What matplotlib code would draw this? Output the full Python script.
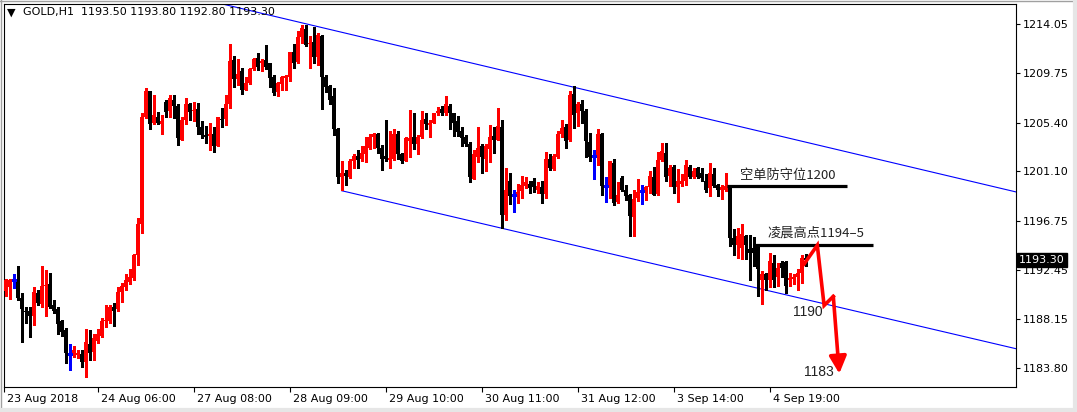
import matplotlib
matplotlib.use('Agg')

import matplotlib.pyplot as plt
import matplotlib.transforms as mtransforms
from matplotlib.lines import Line2D
import numpy as np

# GOLD H1 candles, 23 Aug 2018 -> 4 Sep 2018
opens = [
    1190.6, 1190.9, 1191.5, 1191.5, 1190.0, 1188.8, 1188.8, 1188.4, 1190.4, 1189.4,
    1191.0, 1191.2, 1189.3, 1189.0, 1187.9, 1187.1, 1185.0, 1185.0, 1184.9, 1185.0,
    1184.3, 1185.9, 1185.2, 1186.2, 1186.6, 1187.9, 1187.9, 1189.2, 1189.0, 1190.5,
    1190.9, 1191.4, 1191.7, 1193.7, 1196.5, 1205.9, 1208.2, 1205.4, 1205.9, 1205.3,
    1207.2, 1206.4, 1207.4, 1206.9, 1203.9, 1205.6, 1207.0, 1206.4, 1206.6, 1205.0,
    1204.3, 1204.2, 1204.4, 1203.3, 1205.7, 1205.7, 1207.0, 1210.9, 1209.2, 1209.9,
    1208.3, 1208.9, 1210.1, 1211.1, 1210.6, 1210.9, 1210.6, 1209.4, 1208.1, 1208.8,
    1209.3, 1209.4, 1211.6, 1210.7, 1212.9, 1213.6, 1212.3, 1212.5, 1211.2, 1213.0,
    1209.4, 1208.6, 1207.7, 1204.8, 1200.6, 1201.0, 1200.6, 1202.0, 1202.5, 1202.2,
    1202.6, 1203.2, 1204.1, 1204.4, 1203.2, 1202.5, 1202.1, 1202.2, 1204.4, 1202.6,
    1202.0, 1203.8, 1204.1, 1203.5, 1204.1, 1205.7, 1205.2, 1205.4, 1206.2, 1206.6,
    1206.2, 1206.9, 1206.2, 1205.5, 1204.7, 1204.1, 1203.5, 1200.4, 1202.4, 1203.3,
    1202.2, 1203.1, 1204.2, 1203.9, 1205.0, 1197.3, 1200.3, 1199.0, 1199.0, 1199.4,
    1199.8, 1200.0, 1200.3, 1199.5, 1199.7, 1199.1, 1202.2, 1201.3, 1202.4, 1204.4,
    1205.0, 1203.9, 1207.9, 1206.2, 1207.0, 1206.4, 1203.7, 1202.5, 1202.4, 1204.4,
    1199.8, 1199.7, 1201.8, 1198.4, 1200.5, 1199.5, 1199.0, 1197.1, 1198.8, 1199.4,
    1199.5, 1199.7, 1200.6, 1199.1, 1202.1, 1202.7, 1200.7, 1201.5, 1199.7, 1200.0,
    1200.3, 1201.5, 1200.6, 1201.4, 1201.0, 1200.3, 1199.6, 1200.9, 1199.9, 1199.5,
    1199.5, 1199.7, 1195.2, 1194.6, 1194.4, 1195.4, 1194.3, 1194.4, 1194.5, 1191.5,
    1192.1, 1191.5, 1193.0, 1191.8, 1193.0, 1193.1, 1191.5, 1191.6, 1191.8, 1192.2,
    1193.5,
]
highs = [
    1191.6, 1191.6, 1192.1, 1192.8, 1190.4, 1189.2, 1189.2, 1190.9, 1190.7, 1192.8,
    1192.4, 1192.2, 1189.8, 1189.2, 1188.0, 1187.3, 1185.9, 1185.7, 1185.4, 1185.4,
    1187.2, 1187.1, 1186.8, 1187.2, 1188.2, 1189.3, 1189.3, 1189.5, 1190.9, 1191.3,
    1192.1, 1192.5, 1193.8, 1197.0, 1206.2, 1208.4, 1208.2, 1207.8, 1206.3, 1206.1,
    1207.4, 1207.8, 1207.8, 1207.0, 1205.9, 1207.6, 1207.1, 1207.2, 1207.1, 1205.5,
    1205.1, 1205.4, 1205.0, 1205.9, 1206.7, 1207.8, 1212.3, 1211.3, 1211.0, 1210.2,
    1209.4, 1210.2, 1211.1, 1211.5, 1211.0, 1212.2, 1210.6, 1209.6, 1209.0, 1209.5,
    1209.6, 1211.6, 1212.3, 1213.5, 1214.0, 1214.0, 1213.0, 1213.8, 1213.3, 1213.1,
    1209.6, 1208.7, 1208.4, 1204.9, 1202.0, 1201.2, 1202.2, 1202.6, 1203.0, 1203.3,
    1204.1, 1204.4, 1204.5, 1204.5, 1203.4, 1205.6, 1204.7, 1204.8, 1204.7, 1202.7,
    1204.1, 1206.5, 1206.2, 1204.3, 1206.4, 1206.2, 1205.6, 1206.2, 1206.8, 1206.9,
    1207.7, 1207.0, 1206.2, 1206.0, 1205.0, 1204.3, 1203.7, 1203.0, 1205.0, 1203.5,
    1203.5, 1205.2, 1205.0, 1206.7, 1205.6, 1201.4, 1201.0, 1199.5, 1200.0, 1200.7,
    1200.6, 1200.3, 1200.5, 1200.2, 1200.3, 1202.8, 1202.6, 1202.6, 1204.7, 1205.6,
    1205.3, 1208.2, 1208.6, 1207.2, 1207.4, 1206.6, 1204.5, 1203.0, 1204.8, 1204.5,
    1200.6, 1202.0, 1202.2, 1200.2, 1200.7, 1199.9, 1199.1, 1199.5, 1200.4, 1199.9,
    1199.8, 1201.1, 1201.5, 1202.8, 1203.6, 1203.6, 1201.7, 1201.7, 1201.3, 1200.9,
    1202.1, 1201.7, 1201.4, 1201.5, 1201.4, 1200.9, 1201.8, 1201.4, 1200.0, 1199.9,
    1201.0, 1199.8, 1196.0, 1196.1, 1196.5, 1195.5, 1195.5, 1195.3, 1194.6, 1192.3,
    1192.2, 1193.9, 1193.7, 1193.0, 1193.2, 1193.2, 1192.2, 1192.1, 1192.5, 1193.7,
    1193.8,
]
lows = [
    1190.1, 1189.9, 1190.8, 1189.8, 1186.1, 1187.8, 1186.5, 1187.6, 1189.3, 1189.2,
    1188.4, 1189.1, 1188.6, 1186.8, 1186.6, 1184.2, 1183.6, 1184.8, 1184.7, 1183.9,
    1183.0, 1184.5, 1184.5, 1186.0, 1186.5, 1187.4, 1187.8, 1187.5, 1188.8, 1189.6,
    1190.7, 1191.2, 1191.5, 1192.9, 1195.7, 1205.8, 1204.8, 1205.3, 1205.3, 1204.4,
    1205.9, 1205.9, 1205.8, 1203.4, 1203.9, 1205.3, 1205.6, 1205.5, 1204.4, 1204.0,
    1203.6, 1203.0, 1202.8, 1203.3, 1205.0, 1205.2, 1206.7, 1208.5, 1208.7, 1207.9,
    1208.3, 1208.8, 1210.0, 1210.0, 1209.9, 1210.1, 1208.5, 1207.8, 1207.7, 1208.3,
    1208.3, 1209.1, 1210.2, 1210.6, 1212.4, 1212.1, 1210.2, 1210.6, 1210.5, 1206.6,
    1208.1, 1207.0, 1204.3, 1200.1, 1199.5, 1199.9, 1200.5, 1201.4, 1201.4, 1202.0,
    1201.9, 1203.1, 1203.2, 1202.7, 1201.2, 1202.0, 1201.4, 1202.1, 1202.2, 1201.8,
    1202.0, 1202.4, 1203.1, 1202.6, 1204.0, 1204.8, 1204.1, 1205.4, 1206.1, 1206.1,
    1206.1, 1204.8, 1204.2, 1204.2, 1203.3, 1203.3, 1200.2, 1200.4, 1201.9, 1201.0,
    1201.1, 1201.9, 1202.7, 1203.9, 1196.1, 1196.8, 1198.2, 1197.5, 1198.3, 1198.8,
    1199.6, 1199.2, 1199.3, 1199.2, 1198.3, 1198.8, 1201.2, 1201.2, 1202.3, 1204.1,
    1203.2, 1203.8, 1204.9, 1205.1, 1205.4, 1202.4, 1202.0, 1200.4, 1201.7, 1199.0,
    1198.4, 1198.8, 1198.1, 1198.3, 1199.4, 1198.6, 1195.4, 1195.4, 1198.5, 1198.2,
    1198.6, 1199.2, 1199.0, 1199.0, 1202.0, 1200.3, 1199.8, 1199.2, 1198.4, 1199.8,
    1199.9, 1200.5, 1200.5, 1200.5, 1200.3, 1199.3, 1198.9, 1199.7, 1198.9, 1198.7,
    1199.4, 1194.5, 1193.7, 1193.5, 1193.4, 1193.4, 1191.5, 1192.8, 1190.1, 1189.4,
    1190.7, 1190.9, 1190.9, 1191.0, 1191.8, 1190.4, 1191.0, 1191.2, 1190.7, 1191.3,
    1192.8,
]
closes = [
    1191.5, 1191.5, 1191.5, 1190.0, 1189.0, 1188.7, 1188.4, 1190.5, 1189.5, 1191.0,
    1191.1, 1189.2, 1188.8, 1187.7, 1187.0, 1185.1, 1185.0, 1185.4, 1185.1, 1184.3,
    1186.1, 1185.1, 1186.4, 1186.8, 1187.9, 1188.0, 1189.2, 1188.8, 1190.5, 1191.0,
    1191.5, 1191.8, 1193.7, 1196.5, 1205.9, 1208.2, 1205.3, 1206.1, 1205.4, 1205.5,
    1206.3, 1207.6, 1206.9, 1204.0, 1205.6, 1207.0, 1206.3, 1206.5, 1205.0, 1204.3,
    1204.1, 1204.4, 1203.3, 1205.9, 1205.6, 1207.0, 1210.8, 1209.2, 1209.7, 1208.3,
    1208.9, 1210.1, 1211.0, 1210.3, 1210.8, 1210.3, 1209.3, 1208.0, 1208.9, 1209.4,
    1209.5, 1211.6, 1210.6, 1212.9, 1213.7, 1212.2, 1212.4, 1211.2, 1213.1, 1209.4,
    1208.5, 1207.4, 1204.8, 1200.6, 1201.0, 1200.7, 1202.0, 1202.5, 1202.1, 1202.7,
    1203.3, 1204.1, 1204.4, 1203.2, 1202.2, 1202.2, 1202.3, 1204.4, 1202.6, 1202.0,
    1204.0, 1204.0, 1203.5, 1204.1, 1205.6, 1205.3, 1205.4, 1206.2, 1206.4, 1206.2,
    1207.0, 1206.2, 1205.4, 1204.6, 1204.0, 1203.5, 1200.6, 1202.6, 1203.2, 1202.4,
    1203.3, 1204.1, 1203.9, 1205.1, 1197.3, 1199.5, 1198.9, 1199.0, 1199.3, 1199.9,
    1200.2, 1199.6, 1199.7, 1199.8, 1199.1, 1202.2, 1201.4, 1202.5, 1204.4, 1204.9,
    1203.8, 1207.8, 1206.1, 1207.0, 1206.4, 1203.8, 1202.4, 1202.5, 1204.4, 1199.8,
    1199.8, 1202.0, 1198.3, 1199.0, 1199.5, 1198.9, 1197.2, 1198.7, 1199.3, 1199.4,
    1199.7, 1200.7, 1199.0, 1202.1, 1202.9, 1200.6, 1201.4, 1199.7, 1200.3, 1200.3,
    1201.7, 1200.6, 1201.1, 1200.6, 1200.5, 1199.5, 1201.0, 1199.8, 1199.5, 1199.7,
    1199.8, 1195.2, 1194.6, 1195.4, 1195.6, 1194.6, 1193.9, 1193.9, 1192.5, 1192.1,
    1191.5, 1193.2, 1191.5, 1192.6, 1192.6, 1191.0, 1191.7, 1191.8, 1192.2, 1193.5,
    1193.3,
]

time_tick_bars = [-0.4, 23, 47, 71, 95, 119, 143, 167, 191]
time_tick_labels = ["23 Aug 2018", "24 Aug 06:00", "27 Aug 08:00", "28 Aug 09:00",
                    "29 Aug 10:00", "30 Aug 11:00", "31 Aug 12:00", "3 Sep 14:00",
                    "4 Sep 19:00"]
price_ticks = [1214.05, 1209.75, 1205.40, 1201.10, 1196.75, 1192.45, 1188.15, 1183.80]

# channel trend lines (bar index, price)
upper_channel_x = [54.6, 252.5]
upper_channel_y = [1215.8, 1199.3]
lower_channel_x = [84.0, 252.5]
lower_channel_y = [1199.4, 1185.5]

# hand drawn levels and forecast path
short_stop_level = 1199.8
short_stop_span = [180.3, 210.3]
night_high_level = 1194.6
night_high_span = [187.1, 216.8]
path_x = [199.6, 202.9, 204.6, 206.9, 208.4]
path_y = [1192.95, 1194.6, 1189.3, 1190.1, 1183.3]

symbol = "GOLD,H1"
last_ohlc = [1193.50, 1193.80, 1192.80, 1193.30]

W, H = 1077, 412
fig = plt.figure(figsize=(W / 100, H / 100), dpi=100)
fig.patch.set_facecolor('white')
ax = fig.add_axes([4 / W, 1 - 386.7 / H, 1011.7 / W, 382.4 / H])

o = np.array(opens)
h = np.array(highs)
l = np.array(lows)
c = np.array(closes)
idx = np.arange(len(c))

up = c > o
dn = c < o
doji = c == o
cols = np.where(up, '#ff0000', np.where(dn, '#000000', '#0000ff'))

ax.vlines(idx, l, h, colors=cols, lw=0.75, zorder=3, antialiased=False)
body = ~doji
ax.bar(idx[body], np.maximum(np.abs(c - o)[body], 0.09),
       bottom=np.minimum(o, c)[body], width=0.75, color=cols[body],
       linewidth=0, zorder=3, antialiased=False)
ax.hlines(c[doji], idx[doji] - 0.45, idx[doji] + 0.45, colors='#0000ff', lw=0.75,
          zorder=3, antialiased=False)

ax.plot(upper_channel_x, upper_channel_y, color='#0000ff', lw=0.8, zorder=2)
ax.plot(lower_channel_x, lower_channel_y, color='#0000ff', lw=0.8, zorder=2)

ax.hlines(short_stop_level, *short_stop_span, colors='black', lw=2.3, zorder=4)
ax.hlines(night_high_level, *night_high_span, colors='black', lw=2.3, zorder=4)

cjk = ['Noto Sans CJK SC', 'DejaVu Sans']
ax.text(183.6, 1200.75, "空单防守位1200", family=cjk, fontsize=9.5, color='#222222',
        va='center', ha='left', zorder=5)
ax.text(190.5, 1195.65, "凌晨高点1194–5", family=cjk, fontsize=9.5, color='#222222',
        va='center', ha='left', zorder=5)
ax.text(196.8, 1188.7, "1190", family=['Liberation Sans', 'DejaVu Sans'], fontsize=10,
        color='#222222', va='center', ha='left', zorder=5)
ax.text(199.6, 1183.45, "1183", family=['Liberation Sans', 'DejaVu Sans'], fontsize=10,
        color='#222222', va='center', ha='left', zorder=5)

ax.plot(path_x[:-1], path_y[:-1], color='#ff0000', lw=2.6, solid_joinstyle='miter', zorder=6)
ax.annotate('', xy=(path_x[-1], path_y[-1]), xytext=(path_x[-2], path_y[-2]),
            arrowprops=dict(arrowstyle='-|>', color='#ff0000', lw=2.6,
                            mutation_scale=26, shrinkA=0, shrinkB=0), zorder=6)

ax.set_xlim(-0.43, 252.5)
ax.set_ylim(1182.15, 1215.81)

for s in ax.spines.values():
    s.set_linewidth(0.8)
    s.set_color('black')

ax.yaxis.tick_right()
ax.set_yticks(price_ticks)
ax.set_yticklabels([f"{p:.2f}" for p in price_ticks])
ax.tick_params(axis='y', direction='out', length=3, width=0.8, pad=2, labelsize=8)

ax.set_xticks(time_tick_bars)
ax.set_xticklabels(time_tick_labels)
ax.tick_params(axis='x', direction='out', length=3.6, width=0.8, pad=1.5, labelsize=8)
shift = mtransforms.ScaledTranslation(3 / 100, 0, fig.dpi_scale_trans)
for lab in ax.get_xticklabels():
    lab.set_horizontalalignment('left')
    lab.set_transform(lab.get_transform() + shift)

# current price marker on the price scale
ax.text(1.0035, last_ohlc[3], f"{last_ohlc[3]:.2f}",
        transform=mtransforms.blended_transform_factory(ax.transAxes, ax.transData),
        color='white', fontsize=8, va='center', ha='left', zorder=10, clip_on=False,
        bbox=dict(facecolor='black', edgecolor='black', boxstyle='square,pad=0.22'))

# chart header
fig.text(7 / W, 1 - 13 / H, "▼", fontsize=8, va='center', ha='left', color='black')
fig.text(23 / W, 1 - 12.5 / H,
         symbol + "  " + " ".join(f"{v:.2f}" for v in last_ohlc),
         fontsize=8, va='center', ha='left', color='black')

# window frame: dark line top/left, light band right/bottom
fig.add_artist(Line2D([0.5 / W, 0.5 / W], [0, 1], transform=fig.transFigure,
                      color='#a0a0a0', lw=1))
fig.add_artist(Line2D([0, 1], [1 - 0.5 / H, 1 - 0.5 / H], transform=fig.transFigure,
                      color='#a0a0a0', lw=1))
fig.add_artist(Line2D([1 - 2 / W, 1 - 2 / W], [0, 1], transform=fig.transFigure,
                      color='#e6e6e6', lw=3))
fig.add_artist(Line2D([0, 1], [2 / H, 2 / H], transform=fig.transFigure,
                      color='#e6e6e6', lw=3))

fig.savefig('out.png', dpi=100)
